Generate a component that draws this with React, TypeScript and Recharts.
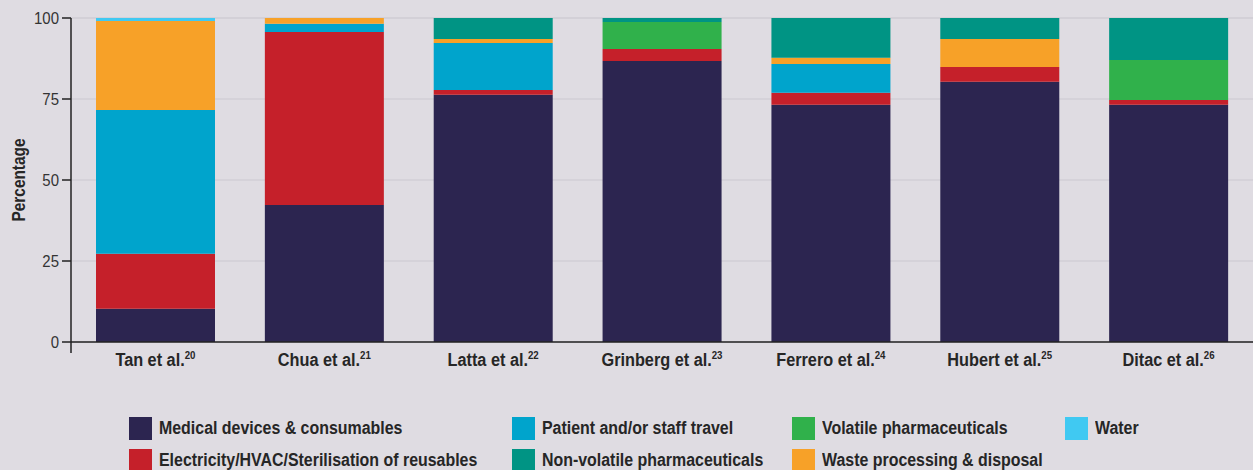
import React from 'react';
import { BarChart, Bar, XAxis, YAxis, CartesianGrid, Label } from 'recharts';

const studies = ['Tan et al.', 'Chua et al.', 'Latta et al.', 'Grinberg et al.', 'Ferrero et al.', 'Hubert et al.', 'Ditac et al.'];
const refs = ['20', '21', '22', '23', '24', '25', '26'];
const medical = [10.3, 42.3, 76.3, 86.7, 73.2, 80.3, 73.2];
const electricity = [16.9, 53.4, 1.5, 3.7, 3.7, 4.6, 1.5];
const travel = [44.4, 2.5, 14.5, 0, 8.9, 0, 0];
const volatilePh = [0, 0, 0, 8.4, 0, 0, 12.3];
const waste = [27.5, 1.8, 1.2, 0, 1.9, 8.6, 0];
const nonVolatile = [0, 0, 6.5, 1.2, 12.3, 6.5, 13.0];
const water = [0.9, 0, 0, 0, 0, 0, 0];
const yTicks = [0, 25, 50, 75, 100];

const series = [
  { key: 'medical', name: 'Medical devices & consumables', color: '#2c2550', values: medical },
  { key: 'electricity', name: 'Electricity/HVAC/Sterilisation of reusables', color: '#c5202a', values: electricity },
  { key: 'travel', name: 'Patient and/or staff travel', color: '#00a4cc', values: travel },
  { key: 'volatile', name: 'Volatile pharmaceuticals', color: '#30b14b', values: volatilePh },
  { key: 'waste', name: 'Waste processing & disposal', color: '#f7a128', values: waste },
  { key: 'nonVolatile', name: 'Non-volatile pharmaceuticals', color: '#009484', values: nonVolatile },
  { key: 'water', name: 'Water', color: '#40c9f2', values: water },
];

const legendRows = [
  ['medical', 'travel', 'volatile', 'water'],
  ['electricity', 'nonVolatile', 'waste'],
];
const legendColX = [129, 512, 792, 1065];

const data = studies.map((s, i) => {
  const row: any = { study: s, refNum: refs[i] };
  series.forEach((se) => { row[se.key] = se.values[i]; });
  return row;
});

const FONT = "'Liberation Sans', Arial, sans-serif";
const BG = '#dfdce2';
const NARROW = 0.88;

const renderXTick = (props: any) => {
  const { x, y, payload, index } = props;
  return (
    <g transform={`translate(${x},${y + 16}) scale(${NARROW},1)`}>
      <text x={0} y={0} textAnchor="middle" fontFamily={FONT} fontWeight="bold" fontSize={18.5} fill="#262626">
        {payload.value}
        <tspan fontSize={11} dy={-7}>{refs[index]}</tspan>
      </text>
    </g>
  );
};

const renderYTick = (props: any) => {
  const { x, y, payload } = props;
  return (
    <g>
      <g transform={`translate(${x},${y + 6}) scale(${NARROW},1)`}>
        <text x={0} y={0} textAnchor="end" fontFamily={FONT} fontSize={17} fill="#333">
          {payload.value}
        </text>
      </g>
      {payload.value === 0 ? (
        <line x1={x + 12} x2={x + 12} y1={y} y2={y + 11} stroke="#222" strokeWidth={1.5} />
      ) : null}
    </g>
  );
};

const renderYLabel = (props: any) => {
  const { viewBox } = props;
  const cy = viewBox.y + viewBox.height / 2;
  return (
    <g transform={`translate(25,${cy}) rotate(-90) scale(${NARROW},1)`}>
      <text x={0} y={0} textAnchor="middle" fontFamily={FONT} fontWeight="bold" fontSize={17.5} fill="#262626">
        Percentage
      </text>
    </g>
  );
};

export default function App() {
  const byKey: any = {};
  series.forEach((s) => { byKey[s.key] = s; });
  return (
    <div style={{ position: 'absolute', left: 0, top: 0, width: 1253, height: 470, background: BG, overflow: 'hidden' }}>
      <BarChart width={1253} height={470} data={data} margin={{ top: 18, right: 0, bottom: 98, left: 0 }} barSize={119}>
        <CartesianGrid vertical={false} stroke="#d2cfd6" strokeWidth={1.5} />
        <XAxis dataKey="study" tick={renderXTick} tickLine={false} axisLine={{ stroke: '#222', strokeWidth: 1.5 }} height={30} interval={0} />
        <YAxis
          domain={[0, 100]}
          ticks={yTicks}
          width={71}
          tick={renderYTick}
          tickSize={9}
          tickMargin={3}
          tickLine={{ stroke: '#222', strokeWidth: 1.5 }}
          axisLine={{ stroke: '#222', strokeWidth: 1.5 }}
        >
          <Label content={renderYLabel} />
        </YAxis>
        {series.map((s) => (
          <Bar key={s.key} dataKey={s.key} name={s.name} stackId="a" fill={s.color} isAnimationActive={false} />
        ))}
      </BarChart>
      {legendRows.map((row, r) =>
        row.map((k, c) => (
          <div key={k} style={{ position: 'absolute', left: legendColX[c], top: 417 + r * 32, display: 'flex', alignItems: 'center', height: 23 }}>
            <div style={{ width: 23, height: 23, background: byKey[k].color, flex: 'none' }} />
            <span
              style={{
                marginLeft: 7,
                fontFamily: FONT,
                fontWeight: 'bold',
                fontSize: 17.5,
                color: '#262626',
                whiteSpace: 'nowrap',
                display: 'inline-block',
                transform: 'scaleX(0.91)',
                transformOrigin: 'left center',
              }}
            >
              {byKey[k].name}
            </span>
          </div>
        ))
      )}
    </div>
  );
}
